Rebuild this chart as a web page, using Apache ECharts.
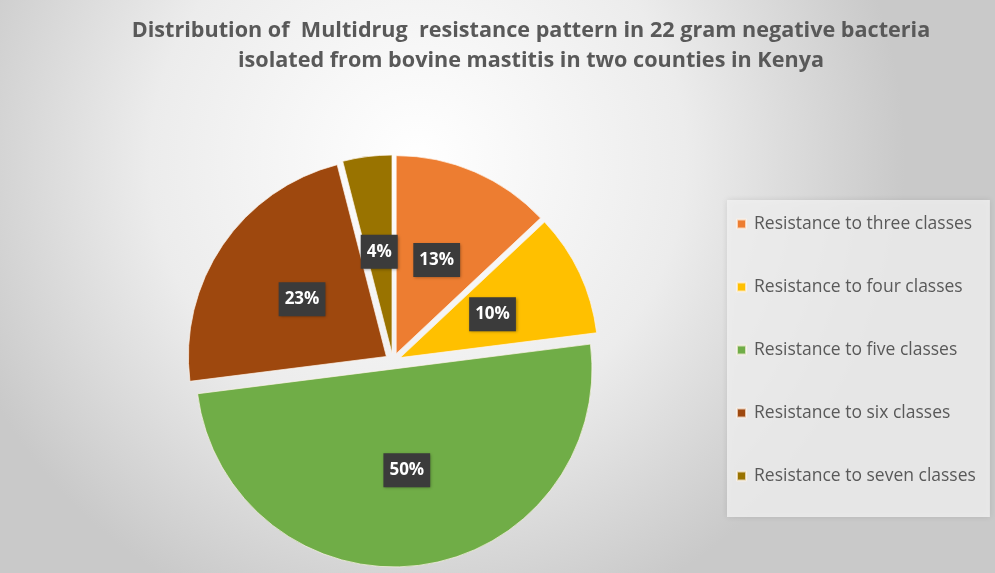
<!DOCTYPE html>
<html>
<head>
<meta charset="utf-8">
<script src="https://cdn.jsdelivr.net/npm/echarts@6/dist/echarts.min.js"></script>
<style>
  html, body { margin: 0; padding: 0; background: #ffffff; }
  #main { width: 995px; height: 573px; }
</style>
</head>
<body>
<div id="main"></div>
<script>
// data
const categories = [
  "Resistance to three classes",
  "Resistance to four classes",
  "Resistance to five classes",
  "Resistance to six classes",
  "Resistance to seven classes"
];
const percents = [13, 10, 50, 23, 4];
const sliceColors = ["#ED7D31", "#FFC000", "#70AD47", "#9E480E", "#997300"];

const chart = echarts.init(document.getElementById("main"));

const option = {
  backgroundColor: {
    type: "radial", x: 0.42, y: 0.28, r: 0.85,
    colorStops: [
      { offset: 0, color: "#ffffff" },
      { offset: 0.55, color: "#ececec" },
      { offset: 1, color: "#c9c9c9" }
    ]
  },
  title: {
    text: "Distribution of  Multidrug  resistance pattern in 22 gram negative bacteria\nisolated from bovine mastitis in two counties in Kenya",
    left: 526,
    top: 11,
    textAlign: "center",
    textStyle: {
      fontFamily: "Open Sans",
      fontWeight: "bold",
      fontSize: 21.6,
      lineHeight: 30,
      color: "#595959"
    }
  },
  legend: {
    orient: "vertical",
    left: 727,
    top: 200,
    padding: [14, 14, 31, 9],
    backgroundColor: "rgba(242,242,242,0.8)",
    shadowColor: "rgba(0,0,0,0.12)",
    shadowBlur: 6,
    itemWidth: 9,
    itemHeight: 9,
    itemGap: 43,
    icon: "rect",
    selectedMode: false,
    data: categories,
    textStyle: {
      fontFamily: "Open Sans",
      fontSize: 17.5,
      lineHeight: 20,
      color: "#595959",
      padding: [0, 0, 0, 3]
    }
  },
  series: [{
    type: "pie",
    center: [393, 361],
    radius: 198,
    startAngle: 90,
    clockwise: true,
    selectedMode: "multiple",
    selectedOffset: 8,
    avoidLabelOverlap: false,
    itemStyle: {
      borderColor: "rgba(255,245,235,0.7)",
      borderWidth: 1
    },
    label: {
      show: true,
      position: "inside",
      formatter: p => p.value + "%",
      fontFamily: "Open Sans",
      fontWeight: "bold",
      fontSize: 17,
      color: "#ffffff",
      backgroundColor: "#3b3b3b",
      padding: [9, 6, 8, 6],
      shadowColor: "rgba(0,0,0,0.35)",
      shadowBlur: 3,
      shadowOffsetX: 1,
      shadowOffsetY: 1
    },
    labelLine: { show: false },
    emphasis: { scale: false },
    data: categories.map((name, i) => ({
      name: name,
      value: percents[i],
      selected: true,
      itemStyle: { color: sliceColors[i] }
    }))
  }]
};

chart.setOption(option);
</script>
</body>
</html>
